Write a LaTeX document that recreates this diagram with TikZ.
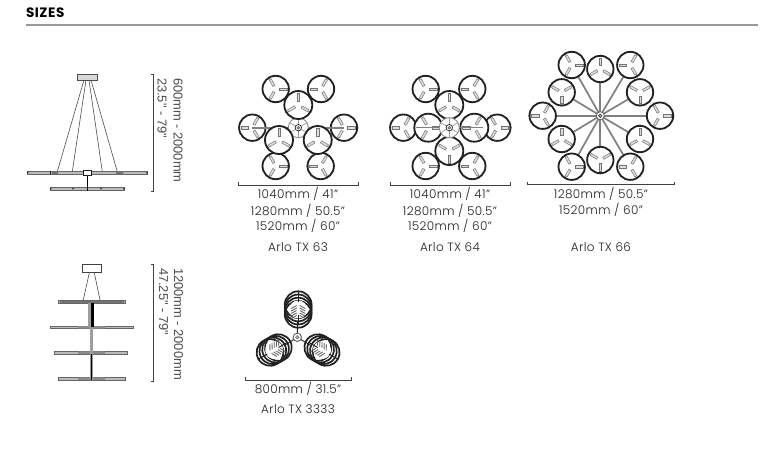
\documentclass[tikz,border=0pt]{standalone}
\usepackage{fontspec}
\setmainfont[LetterSpace=3,BoldFont={Poppins Bold}]{Poppins Light}
\newfontfamily\headfont[LetterSpace=4]{Poppins Bold}
\newfontfamily\dimfont{Liberation Sans}
\definecolor{barg}{gray}{0.62}
\definecolor{ink}{gray}{0.13}
\tikzset{
  x=1pt,y=-1pt,
  every node/.style={inner sep=0pt,outer sep=0pt,text=ink},
  lbl/.style={font=\fontsize{12}{13}\selectfont,anchor=center},
  vlbl/.style={font=\dimfont\fontsize{12.9}{14}\selectfont,rotate=-90,anchor=west,text=black!70},
  dimline/.style={draw=black!75,line width=0.7pt},
  ringline/.style={draw=ink,line width=1.8pt,fill=white},
  spokebar/.style={draw=black!55,line width=0.5pt,fill=barg!35},
  arm/.style={draw=black!50,line width=1.7pt},
  wire/.style={draw=black!70,line width=0.6pt},
  hbar/.style={draw=black!60,line width=0.5pt,fill=barg!70},
}
% x y radius start-angle
\newcommand{\lampring}[4]{%
  \begin{scope}[shift={(#1,#2)}]
    \draw[ringline] (0,0) circle[radius=#3];
    \foreach \ang in {0,120,240}{
      \begin{scope}[rotate=#4+\ang]
        \draw[spokebar] (0.27*#3,-1.2) rectangle (0.84*#3,1.2);
        \fill[ink] (#3,0) circle[radius=1.1];
      \end{scope}
    }
  \end{scope}}
\newcommand{\lamphub}[3]{%
  \draw[draw=black!45,line width=0.9pt,fill=white] (#1,#2) circle[radius=#3];
  \foreach \ang in {30,90,150,210,270,330}{\draw[black!40,line width=0.7pt] (#1,#2) ++(\ang:3) -- ++(\ang:#3-3);}
  \draw[draw=ink,line width=0.7pt,fill=white] (#1,#2) circle[radius=3.2];
  \draw[draw=black!70,line width=0.5pt,fill=black!30] (#1,#2) circle[radius=1.4];}
% x y radial-angle
\newcommand{\lampcluster}[3]{%
  \begin{scope}[shift={(#1,#2)},rotate=#3]
    \foreach \off in {-4.8,-1.6,1.6,4.8}{
      \draw[draw=ink,line width=1.7pt] (\off,0) circle[radius=13.4];
    }
    \fill[white] (0,0) circle[radius=9];
    \foreach \off in {-6,-3.5,-1,1.5,4}{
      \draw[black!60,line width=0.9pt] (\off-3,-7) -- (\off,-1.5) (\off-3,7) -- (\off,1.5);
    }
    \fill[white] (-2,0) circle[radius=2];
    \draw[ink,line width=1pt] (-14,0) -- (-5,0) (8,0) -- (18.8,0);
  \end{scope}}
\begin{document}
\begin{tikzpicture}
\useasboundingbox (0,0) rectangle (777,456);
\fill[white] (0,0) rectangle (777,456);
% header
\node[font=\headfont\fontsize{13.6}{15}\selectfont,anchor=west,text=black] (title) at (26,13.2) {SIZES};
\coordinate (ruleL) at (26,25); \coordinate (ruleR) at (758,25);
\draw[draw=black!40,line width=1.5pt] (ruleL) -- (ruleR);

% elevation 1
\draw[draw=black!70,line width=0.6pt,fill=black!15] (77.7,74.3) rectangle (97.3,80);
\draw[wire] (84,80) -- (57.3,171.7);
\draw[wire] (86,80) -- (72.3,171.7);
\draw[wire] (89,80) -- (102.3,171.7);
\draw[wire] (91,80) -- (117.3,171.7);
\draw[hbar] (27.7,171.2) rectangle (147,174.2);
\draw[hbar] (50.7,187.2) rectangle (124,190.2);
\foreach \xx/\yy in {27.7/172.7,147/172.7,50.7/188.7,124/188.7,73/188.7,101/188.7}{\fill[ink] (\xx,\yy) circle[radius=0.9];}
\draw[ink,line width=0.8pt] (50.7,171) -- (50.7,174.4) (57.3,171) -- (57.3,174.4) (117.3,171) -- (117.3,174.4);
\fill[black!55] (52,171.2) rectangle (58,174.2) (116,171.2) rectangle (123,174.2);
\draw[black,line width=1.1pt] (87.3,175) -- (87.3,190.5);
\draw[draw=ink,line width=0.7pt,fill=white] (83.3,170.3) rectangle (91.7,175);
% dim 1
\draw[dimline] (151,74.3) -- (153.3,74.3) -- (153.3,191.7) -- (151,191.7);
\node[vlbl] (h1a) at (178,78) {600mm - 2000mm};
\node[vlbl] (h1b) at (162,78) {23.5" - 79"};

% elevation 2
\draw[draw=black!75,line width=0.6pt,fill=white] (82.3,264) rectangle (101.3,272.7);
\draw[wire] (89.3,272.7) -- (83.3,300);
\draw[wire] (94.3,272.7) -- (100,300);
\draw[hbar] (58.7,300.6) rectangle (125.7,303.2);
\draw[hbar] (50.3,326) rectangle (133.7,328.6);
\draw[hbar] (54.7,351.4) rectangle (127.7,354);
\draw[hbar] (58.7,377.4) rectangle (125.7,380);
\fill[black!55] (60,300.6) rectangle (124,303.2);
\fill[black!45] (78,326) rectangle (105,328.6) (78,351.4) rectangle (105,354) (78,377.4) rectangle (105,380);
\fill[barg] (88.2,303) rectangle (93,327);
\fill[barg] (90.4,327) rectangle (93,380);
\fill[black] (91.2,303) rectangle (93.6,327);
\draw[black,line width=0.8pt] (91.7,354) -- (91.7,380);
% dim 2
\draw[dimline] (151,264) -- (153.3,264) -- (153.3,381) -- (151,381);
\node[vlbl] (h2a) at (178.5,268) {1200mm - 2000mm};
\node[vlbl] (h2b) at (163.5,268) {47.25" - 79"};

% TX 63
\lampring{275.7}{89}{13.2}{0}
\lampring{321}{89}{13.2}{60}
\lampring{252.3}{127.7}{13.2}{60}
\lampring{344}{127.7}{13.2}{0}
\lampring{275.7}{166}{13.2}{0}
\lampring{320.7}{166}{13.2}{60}
\draw[arm] (252.3,127.7) -- (344,127.7);
\lamphub{298.3}{127.7}{10}
\lampring{298.3}{105}{14}{90}
\lampring{279}{140}{14}{90}
\lampring{317.7}{140}{14}{90}
\draw[dimline] (238,182) -- (238,185) -- (358,185) -- (358,182);

% TX 64
\lampring{425.7}{89}{13.2}{0}
\lampring{472.3}{89}{13.2}{60}
\lampring{403.3}{127.7}{13.2}{60}
\lampring{497.3}{127.7}{13.2}{0}
\lampring{425.7}{166}{13.2}{0}
\lampring{472.3}{166}{13.2}{60}
\lampring{449.3}{105}{14}{90}
\lampring{449.3}{151}{14}{30}
\lampring{428.3}{127.7}{14}{0}
\lampring{474.3}{127.7}{14}{60}
\draw[black!50,line width=1.4pt] (416,127.7) -- (483,127.7);
\lamphub{449.3}{127.7}{10}
\draw[dimline] (390.5,182) -- (390.5,185) -- (510,185) -- (510,182);

% TX 66
\foreach \xx/\yy in {600.3/69,571.7/65,630.3/65,561.7/92.3,640/92.3,542.7/115.7,660/115.7,561.7/139,640/139,571.7/166.7,630.3/166.7,600.3/160}{
  \draw[arm] (600.3,115.7) -- (\xx,\yy);
}
\lampring{600.3}{69}{13.2}{90}
\lampring{571.7}{65}{13.2}{0}
\lampring{630.3}{65}{13.2}{60}
\lampring{561.7}{92.3}{13.2}{30}
\lampring{640}{92.3}{13.2}{30}
\lampring{542.7}{115.7}{13.2}{60}
\lampring{660}{115.7}{13.2}{0}
\lampring{561.7}{139}{13.2}{90}
\lampring{640}{139}{13.2}{90}
\lampring{571.7}{166.7}{13.2}{0}
\lampring{630.3}{166.7}{13.2}{60}
\lampring{600.3}{160}{13.2}{30}
\draw[draw=black!70,line width=0.6pt,fill=white] (600.3,115.7) circle[radius=4];
\draw[draw=ink,line width=0.6pt,fill=black!20] (600.3,115.7) circle[radius=1.7];
\draw[dimline] (527.7,181.5) -- (527.7,184.3) -- (674,184.3) -- (674,181.5);

% TX 3333
\lampcluster{298.2}{309.5}{90}
\lampcluster{274.2}{350}{210}
\lampcluster{322}{350}{330}
\draw[ink,line width=0.9pt] (297.3,337.3) -- (297.3,322) (297.3,337.3) -- (285,345) (297.3,337.3) -- (310,345);
\draw[draw=black!70,line width=0.8pt,fill=white] (297.3,337.3) circle[radius=4.2];
\draw[draw=black!60,line width=0.6pt,fill=black!25] (297.3,337.3) circle[radius=1.8];
\draw[dimline] (245,377) -- (245,380) -- (351.5,380) -- (351.5,377);

% texts
\node[lbl] (a1) at (298,194) {1040mm / 41"};
\node[lbl] (a2) at (298,210.5) {1280mm / 50.5"};
\node[lbl] (a3) at (298,226) {1520mm / 60"};
\node[lbl] (a4) at (298,247) {Arlo TX 63};
\node[lbl] (b1) at (450,194) {1040mm / 41"};
\node[lbl] (b2) at (450,210.5) {1280mm / 50.5"};
\node[lbl] (b3) at (450,226) {1520mm / 60"};
\node[lbl] (b4) at (450,247) {Arlo TX 64};
\node[lbl] (c1) at (601,194) {1280mm / 50.5"};
\node[lbl] (c2) at (601,210) {1520mm / 60"};
\node[lbl] (c4) at (601,247) {Arlo TX 66};
\node[lbl] (d1) at (298,388.5) {800mm / 31.5"};
\node[lbl] (d4) at (298,409) {Arlo TX 3333};
\end{tikzpicture}
\end{document}
